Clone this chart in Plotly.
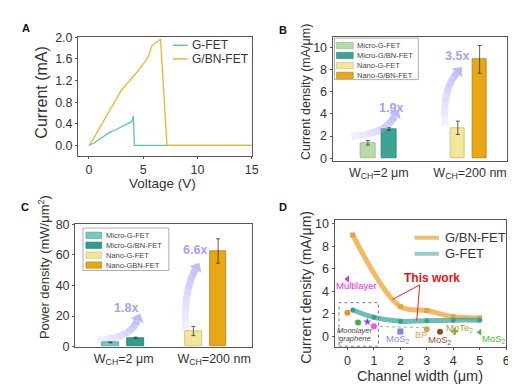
import plotly.graph_objects as go

W, H = 516, 390
FONT = "Liberation Sans, Arial, sans-serif"
AX = "#555555"

# ---------------- Panel A data ----------------
a_gfet_v = [0, 0.5, 1.0, 1.5, 2.0, 2.5, 3.0, 3.5, 3.8, 4.0, 4.1, 4.2, 15]
a_gfet_i = [0, 0.05, 0.12, 0.18, 0.25, 0.29, 0.35, 0.40, 0.42, 0.46, 0.55, 0.0, 0.0]
a_gbn_v = [0, 0.5, 1.0, 1.5, 2.0, 2.5, 3.0, 3.5, 4.0, 4.5, 5.0, 5.5, 5.8, 6.2, 6.5, 6.6, 7.2, 15]
a_gbn_i = [0, 0.15, 0.33, 0.5, 0.68, 0.86, 1.02, 1.14, 1.25, 1.37, 1.5, 1.65, 1.84, 1.9, 1.96, 1.96, 0.0, 0.0]

# ---------------- Panel B data ----------------
b_groups = ["W<sub>CH</sub>=2 μm", "W<sub>CH</sub>=200 nm"]
b_series = ["Micro-G-FET", "Micro-G/BN-FET", "Nano-G-FET", "Nano-G/BN-FET"]
b_values = [1.4, 2.65, 2.75, 8.9]
b_errors = [0.2, 0.12, 0.6, 1.25]
b_ratios = ["1.9x", "3.5x"]

# ---------------- Panel C data ----------------
c_groups = ["W<sub>CH</sub>=2 μm", "W<sub>CH</sub>=200 nm"]
c_series = ["Micro-G-FET", "Micro-G/BN-FET", "Nano-G-FET", "Nano-GBN-FET"]
c_values = [2.8, 5.8, 10.2, 62.5]
c_errors = [0.3, 0.4, 3.0, 8.0]
c_ratios = ["1.8x", "6.6x"]

# ---------------- Panel D data ----------------
d_gbn_w = [0.2, 2, 3, 4, 5]
d_gbn_j = [9.0, 2.65, 2.3, 1.75, 1.65]
d_g_w = [0.2, 1, 2, 3, 4, 5]
d_g_j = [2.35, 1.7, 1.35, 1.4, 1.45, 1.45]
lit_w = [0.0, 0.0, 0.4, 0.75, 1.0, 2.0, 3.0, 3.5, 4.05, 5.0]
lit_j = [5.1, 2.1, 1.25, 1.3, 0.9, 0.45, 0.65, 0.43, 0.45, 0.37]
dash_w = [1.0, 3.0]
dash_j = [0.9, 0.78]

# ---------------- styles ----------------
b_colors = ["#b6dba6", "#3aa597", "#f2e699", "#e9a713"]
b_edges = ["#8fb685", "#2a7f74", "#c9bd6e", "#b37f0c"]
c_colors = ["#74c9c1", "#2e9e8f", "#f2e699", "#e9a713"]
c_edges = ["#4e9c95", "#217468", "#c9bd6e", "#b37f0c"]
lit_colors = ["#ee22ee", "#f08a2a", "#3cb043", "#8a3ff0", "#f050f0",
              "#8080ff", "#d9a050", "#8b4a2a", "#a0a040", "#40c040"]
lit_symbols = ["triangle-left", "circle", "circle", "star", "circle",
               "square", "circle", "circle", "cross", "triangle-left"]


def X(p):
    return p / W


def Y(p):
    return 1 - p / H


fig = go.Figure()

# Panel A
fig.add_trace(go.Scatter(x=a_gfet_v, y=a_gfet_i, mode="lines", line=dict(color="#5ec1b6", width=1.3),
                         xaxis="x", yaxis="y", showlegend=False))
fig.add_trace(go.Scatter(x=a_gbn_v, y=a_gbn_i, mode="lines", line=dict(color="#f2b42e", width=1.3),
                         xaxis="x", yaxis="y", showlegend=False))

# Panel B bars
b_pos = [0.81, 1.29, 2.87, 3.37]
for i in range(4):
    fig.add_trace(go.Bar(x=[b_pos[i]], y=[b_values[i]], width=0.33,
                         marker=dict(color=b_colors[i], line=dict(color=b_edges[i], width=0.8)),
                         error_y=dict(type="data", array=[b_errors[i]], color="#333", thickness=0.8, width=2),
                         xaxis="x2", yaxis="y2", showlegend=False))

# Panel C bars
c_pos = [0.80, 1.37, 2.68, 3.24]
for i in range(4):
    fig.add_trace(go.Bar(x=[c_pos[i]], y=[c_values[i]], width=0.38,
                         marker=dict(color=c_colors[i], line=dict(color=c_edges[i], width=0.8)),
                         error_y=dict(type="data", array=[c_errors[i]], color="#333", thickness=0.8, width=2),
                         xaxis="x3", yaxis="y3", showlegend=False))

# Panel D
fig.add_trace(go.Scatter(x=dash_w, y=dash_j, mode="lines", line=dict(color="#7ccf6a", width=1, dash="dot"),
                         xaxis="x4", yaxis="y4", showlegend=False))
fig.add_trace(go.Scatter(x=d_gbn_w, y=d_gbn_j, mode="lines+markers", line=dict(color="rgba(240,168,60,0.8)", width=5, shape="spline"),
                         marker=dict(symbol="square", size=5, color="#e8a040"),
                         xaxis="x4", yaxis="y4", showlegend=False))
fig.add_trace(go.Scatter(x=d_g_w, y=d_g_j, mode="lines+markers", line=dict(color="rgba(60,170,155,0.75)", width=5, shape="spline"),
                         marker=dict(symbol="circle", size=5, color="#3aa090"),
                         xaxis="x4", yaxis="y4", showlegend=False))
fig.add_trace(go.Scatter(x=lit_w, y=lit_j, mode="markers",
                         marker=dict(symbol=lit_symbols, color=lit_colors, size=6),
                         xaxis="x4", yaxis="y4", showlegend=False))

axis_common = dict(showline=True, linecolor=AX, linewidth=1, mirror=True, ticks="outside",
                   ticklen=2, tickcolor=AX, showgrid=False, zeroline=False,
                   tickfont=dict(family=FONT, size=12.5, color="#333"))
cat_axis = {**axis_common, "ticks": "", "tickfont": dict(family=FONT, size=12.5, color="#333")}

fig.update_layout(
    width=W, height=H, margin=dict(l=0, r=0, t=0, b=0),
    paper_bgcolor="white", plot_bgcolor="white", font=dict(family=FONT, color="#333"),
    xaxis=dict(domain=[X(71), X(247)], anchor="y", range=[-1, 15], tickvals=[0, 5, 10, 15], **axis_common),
    yaxis=dict(domain=[Y(146), Y(23)], anchor="x", range=[-0.19, 2.0],
               tickvals=[0, 0.4, 0.8, 1.2, 1.6, 2.0], tickformat=".1f", **axis_common),
    xaxis2=dict(domain=[X(329), X(506)], anchor="y2", range=[0, 4], tickvals=[1.06, 3.15],
                ticktext=b_groups, **cat_axis),
    yaxis2=dict(domain=[Y(151), Y(23)], anchor="x2", range=[-0.2, 10.9], tickvals=[0, 2, 4, 6, 8, 10], **axis_common),
    xaxis3=dict(domain=[X(68), X(247)], anchor="y3", range=[0, 4], tickvals=[1.1, 3.15],
                ticktext=c_groups, **cat_axis),
    yaxis3=dict(domain=[Y(344), Y(217)], anchor="x3", range=[0, 80], tickvals=[0, 20, 40, 60, 80], **axis_common),
    xaxis4=dict(domain=[X(331), X(505)], anchor="y4", range=[-0.49, 6.0], tickvals=[0, 1, 2, 3, 4, 5, 6], **axis_common),
    yaxis4=dict(domain=[Y(344), Y(213)], anchor="x4", range=[-0.9, 10.3], tickvals=[0, 2, 4, 6, 8, 10], **axis_common),
)

shapes = []
ann = []


def text(px, py, s, size=12, color="#333", angle=0, bold=False, xanchor="center", italic=False):
    if bold:
        s = "<b>" + s + "</b>"
    if italic:
        s = "<i>" + s + "</i>"
    ann.append(dict(x=X(px), y=Y(py), xref="paper", yref="paper", text=s, showarrow=False,
                    font=dict(family=FONT, size=size, color=color), textangle=angle,
                    xanchor=xanchor, yanchor="middle"))


# Panel labels
text(18, 14, "A", 11, "#111", bold=True)
text(279, 16, "B", 11, "#111", bold=True)
text(17, 199, "C", 11, "#111", bold=True)
text(279, 199, "D", 11, "#111", bold=True)

# Axis titles
text(34, 81, "Current (mA)", 16, angle=-90)
text(157, 175, "Voltage (V)", 13.5)
text(302, 80, "Current density (mA/μm)", 12.5, angle=-90)
text(36, 262, "Power density (mW/μm<sup>2</sup>)", 13, angle=-90)
text(302, 282, "Current density (mA/μm)", 14, angle=-90)
text(418, 374, "Channel width (μm)", 14.5)

# Legend A
for yy, col, lab in [(31.5, "#5ec1b6", "G-FET"), (45.5, "#f2b42e", "G/BN-FET")]:
    shapes.append(dict(type="line", xref="paper", yref="paper", x0=X(167), x1=X(182), y0=Y(yy), y1=Y(yy),
                       line=dict(color=col, width=1.5)))
    text(185, yy, lab, 12, xanchor="left")


def bar_legend(x0, y0, labels, colors, edges, step, sw=17, sh=6.5, box=None):
    if box:
        shapes.append(dict(type="rect", xref="paper", yref="paper", x0=X(box[0]), x1=X(box[2]),
                           y0=Y(box[1]), y1=Y(box[3]), line=dict(color="#999", width=0.8), fillcolor="white"))
    for i, lab in enumerate(labels):
        yc = y0 + i * step
        shapes.append(dict(type="rect", xref="paper", yref="paper", x0=X(x0), x1=X(x0 + sw),
                           y0=Y(yc - sh / 2), y1=Y(yc + sh / 2), line=dict(color=edges[i], width=0.6),
                           fillcolor=colors[i]))
        text(x0 + sw + 2, yc, lab, 7.5, "#444", xanchor="left")


bar_legend(333, 31.7, b_series, b_colors, b_edges, 10.3, box=(331, 24, 416, 67))
bar_legend(79, 228.5, c_series, c_colors, c_edges, 10.3, sw=16, box=(76, 221, 163, 265))


# Curved gradient arrows
def arrow(p0, pc, p1, color="160,160,250"):
    n = 8
    pts = []
    for k in range(n + 1):
        t = k / n
        x = (1 - t) ** 2 * p0[0] + 2 * (1 - t) * t * pc[0] + t ** 2 * p1[0]
        y = (1 - t) ** 2 * p0[1] + 2 * (1 - t) * t * pc[1] + t ** 2 * p1[1]
        pts.append((x, y))
    for k in range(n):
        a = 0.08 + 0.55 * (k + 1) / n
        (xa, ya), (xb, yb) = pts[k], pts[k + 1]
        shapes.append(dict(type="line", xref="paper", yref="paper", x0=X(xa), y0=Y(ya), x1=X(xb), y1=Y(yb),
                           line=dict(color=f"rgba({color},{a:.2f})", width=7)))
    dx, dy = p1[0] - pc[0], p1[1] - pc[1]
    L = (dx * dx + dy * dy) ** 0.5
    ux, uy = dx / L, dy / L
    tip = (p1[0] + ux * 8, p1[1] + uy * 8)
    l = (p1[0] - uy * 7, p1[1] + ux * 7)
    r = (p1[0] + uy * 7, p1[1] - ux * 7)
    path = f"M {X(tip[0])},{Y(tip[1])} L {X(l[0])},{Y(l[1])} L {X(r[0])},{Y(r[1])} Z"
    shapes.append(dict(type="path", xref="paper", yref="paper", path=path,
                       fillcolor=f"rgba({color},0.7)", line=dict(width=0)))


arrow((348, 126), (382, 124), (392, 105))
arrow((443, 114), (440, 78), (455, 60))
arrow((90, 337), (124, 336), (131, 317))
arrow((180, 328), (178, 285), (190, 264))
text(388, 96, b_ratios[0], 12.5, "#a3a3f7", bold=True)
text(455, 43, b_ratios[1], 12.5, "#a3a3f7", bold=True)
text(120, 304, c_ratios[0], 12.5, "#a3a3f7", bold=True)
text(190, 244, c_ratios[1], 12.5, "#a3a3f7", bold=True)

# Panel D legend
for yy, col, lab in [(231, "rgba(240,168,60,0.75)", "G/BN-FET"), (247.7, "rgba(60,170,155,0.55)", "G-FET")]:
    shapes.append(dict(type="line", xref="paper", yref="paper", x0=X(412), x1=X(437), y0=Y(yy), y1=Y(yy),
                       line=dict(color=col, width=4)))
    text(441, yy, lab, 13, xanchor="left")


def dtext(x, y, s, size, color, **kw):
    d = dict(x=x, y=y, xref="x4", yref="y4", text=s, showarrow=False,
             font=dict(family=FONT, size=size, color=color))
    d.update(kw)
    ann.append(d)


shapes.append(dict(type="rect", xref="x4", yref="y4", x0=-0.32, x1=1.17, y0=-0.86, y1=3.0,
                   line=dict(color="#777", width=1, dash="dot")))
shapes.append(dict(type="line", xref="x4", yref="y4", x0=2.73, y0=4.57, x1=1.7, y1=3.28,
                   line=dict(color="#ee2222", width=1)))
shapes.append(dict(type="line", xref="x4", yref="y4", x0=2.73, y0=4.57, x1=2.62, y1=1.42,
                   line=dict(color="#ee2222", width=1)))
dtext(3.2, 5.2, "<b>This work</b>", 12, "#ee1111")
dtext(0.35, 4.5, "Multilayer", 9.5, "#ee22ee")
dtext(0.3, 0.55, "<i>Monolayer</i>", 7.5, "#444")
dtext(0.27, -0.2, "<i>graphene</i>", 7.5, "#444")
dtext(1.9, -0.2, "MoS<sub>2</sub>", 9.5, "#8a8af5")
dtext(2.8, 0.17, "BP", 9.5, "#f0a050")
dtext(3.5, -0.3, "MoS<sub>2</sub>", 9.5, "#a04a3a")
dtext(4.25, 0.72, "MoTe<sub>2</sub>", 9.5, "#b0a040")
dtext(5.55, -0.2, "MoS<sub>2</sub>", 9.5, "#40c040")

fig.update_layout(shapes=shapes, annotations=ann, bargap=0)
fig.write_html("out.html")
